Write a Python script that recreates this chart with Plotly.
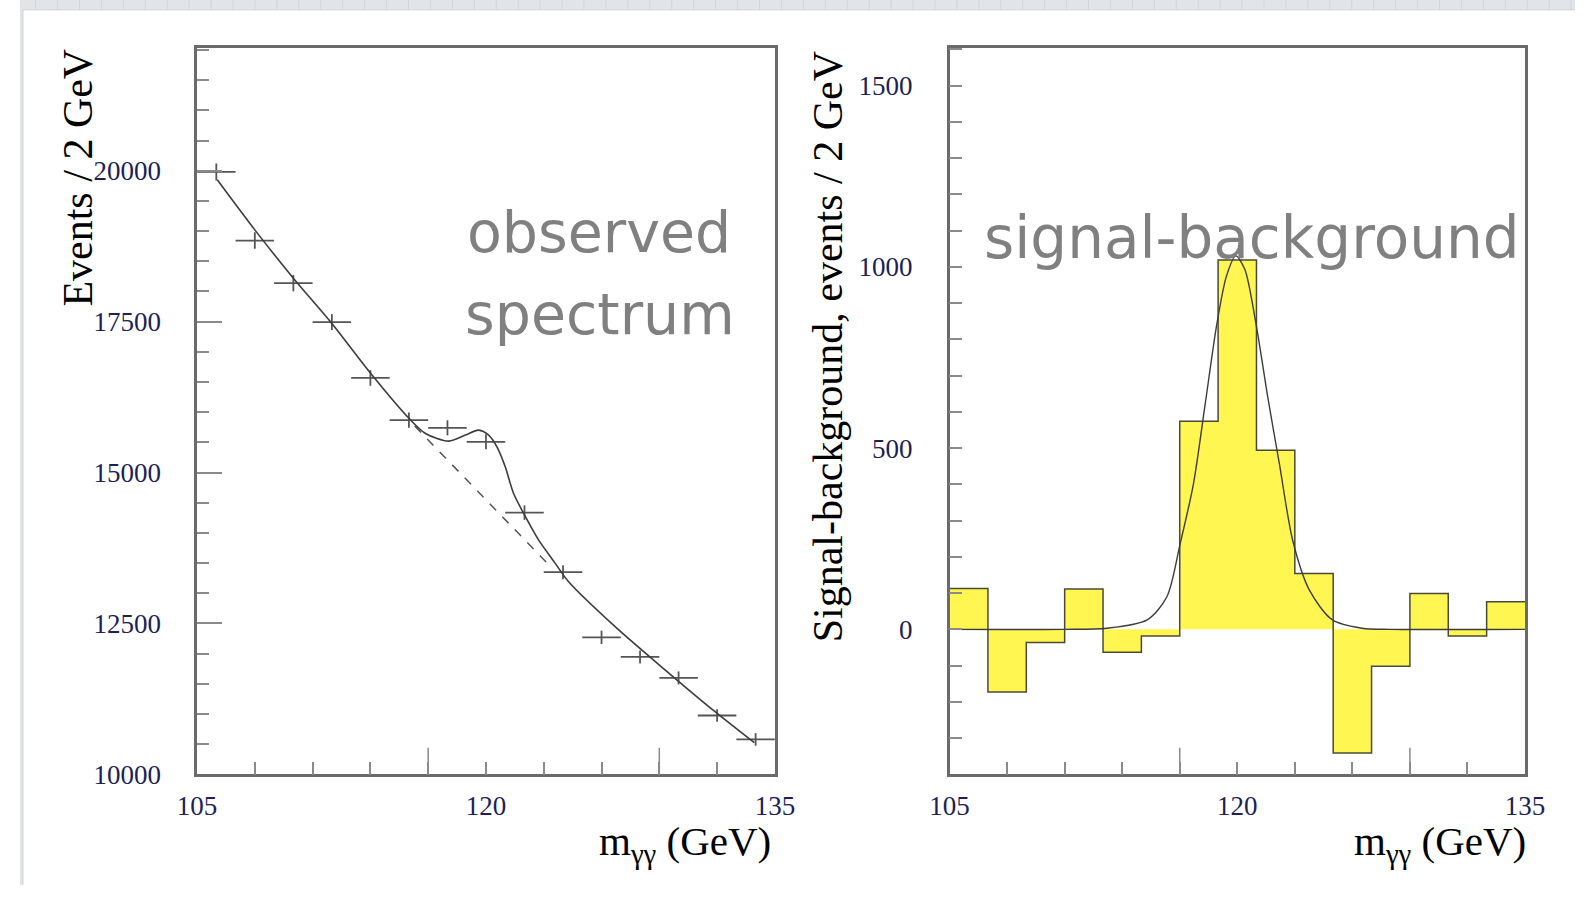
import plotly.graph_objects as go

W, H = 1595, 900

# ---------------- data ----------------
mass_centers = [106, 108, 110, 112, 114, 116, 118, 120, 122, 124, 126, 128, 130, 132, 134]
events = [19980, 18843, 18137, 17493, 16567, 15868, 15741, 15509, 14336, 13350, 12270, 11945, 11598, 10975, 10579]
event_err = [140, 137, 135, 132, 129, 126, 125, 125, 120, 116, 111, 109, 108, 105, 103]
bin_width = 2

fit_mass = [106.05, 108, 110, 112, 114, 116, 116.86, 118.07, 118.93, 119.62, 120.14, 120.57,
            121.0, 121.43, 122.0, 122.73, 123.59, 124.28, 126.69, 129.28, 131.86, 133.93]
fit_events = [19850, 19020, 18220, 17470, 16650, 15900, 15647, 15521, 15620, 15702, 15620, 15426,
              15096, 14656, 14298, 13884, 13499, 13195, 12451, 11736, 11046, 10524]

bkg_mass = [116.3, 120.0, 123.3]
bkg_events = [15770, 14550, 13460]

hist_edges = [105, 107, 109, 111, 113, 115, 117, 119, 121, 123, 125, 127, 129, 131, 133, 135]
excess = [113, -173, -36, 111, -63, -18, 574, 1019, 494, 154, -341, -102, 99, -18, 76]

sig_mass = [105, 111, 113.2, 115.3, 116.33, 117.02, 117.71, 118.32, 118.92, 119.44, 119.92,
            120.39, 120.99, 121.6, 122.2, 122.89, 123.76, 124.96, 126.5, 128, 135]
sig_events = [0, 0, 3, 26, 90, 236, 400, 619, 838, 975, 1030, 993, 838, 637, 455, 245, 108, 26, 3, 0, 0]

x_labels = [105, 120, 135]
x_minor = [108, 111, 114, 117, 123, 126, 129, 132]
x_long = [117, 129]

# ---------------- helpers ----------------
def fx(p):
    return p / W

def fy(p):
    return 1 - p / H

SERIF = "Liberation Serif, Times New Roman, serif"
TICKCOL = "#8a8a8a"
FRAME = "#6a6a6a"
LABCOL = "#1d1f55"

fig = go.Figure()

# left: observed spectrum
fig.add_trace(go.Scatter(
    x=mass_centers, y=events, mode="markers",
    marker=dict(size=1, color="#555555"),
    error_x=dict(type="constant", value=bin_width / 2, width=0, color="#555555", thickness=1.8),
    error_y=dict(type="data", array=event_err, width=0, color="#555555", thickness=1.8),
    xaxis="x", yaxis="y", showlegend=False, hoverinfo="skip"))
fig.add_trace(go.Scatter(
    x=bkg_mass, y=bkg_events, mode="lines",
    line=dict(color="#555555", width=1.5, dash="dash"),
    xaxis="x", yaxis="y", showlegend=False))
fig.add_trace(go.Scatter(
    x=fit_mass, y=fit_events, mode="lines",
    line=dict(color="#3c3c3c", width=1.6, shape="spline", smoothing=0.8),
    xaxis="x", yaxis="y", showlegend=False))

# right: signal - background
hx = hist_edges
hy = excess + [excess[-1]]
fig.add_trace(go.Scatter(
    x=hx, y=hy, mode="lines", line=dict(color="#4a4a3a", width=1.5, shape="hv"),
    fill="tozeroy", fillcolor="#fff652",
    xaxis="x2", yaxis="y2", showlegend=False))
fig.add_trace(go.Scatter(
    x=sig_mass, y=sig_events, mode="lines",
    line=dict(color="#3c3c3c", width=1.4, shape="spline", smoothing=0.8),
    xaxis="x2", yaxis="y2", showlegend=False))

TOP, BOT = 49, 787.5
ydom = [fy(BOT), fy(TOP)]
dom_h = BOT - TOP

def xaxis_cfg(dom, anchor):
    return dict(
        domain=dom, anchor=anchor, range=[105, 135],
        tickmode="array", tickvals=x_labels, ticktext=[str(v) for v in x_labels],
        ticks="inside", ticklen=13, tickwidth=1.5, tickcolor=TICKCOL,
        minor=dict(tickmode="array", tickvals=x_minor, ticks="inside", ticklen=13,
                   tickwidth=1.5, tickcolor=TICKCOL, showgrid=False),
        showline=True, mirror=True, linecolor=FRAME, linewidth=2.5,
        showgrid=False, zeroline=False,
        tickfont=dict(family=SERIF, size=27, color=LABCOL),
        ticklabelstandoff=5, fixedrange=True)

fig.update_layout(
    width=W, height=H,
    margin=dict(l=0, r=0, t=0, b=0),
    paper_bgcolor="white", plot_bgcolor="white",
    xaxis=xaxis_cfg([fx(181.6), fx(774.3)], "y"),
    xaxis2=xaxis_cfg([fx(953.5), fx(1543.7)], "y2"),
    yaxis=dict(
        domain=ydom, anchor="x", range=[10000, 22030],
        tick0=10000, dtick=2500, tickformat="d",
        ticks="inside", ticklen=25, tickwidth=1.5, tickcolor=TICKCOL,
        minor=dict(dtick=500, ticks="inside", ticklen=12, tickwidth=1.5, tickcolor=TICKCOL, showgrid=False),
        showline=True, mirror=True, linecolor=FRAME, linewidth=2.5,
        showgrid=False, zeroline=False,
        tickfont=dict(family=SERIF, size=27, color=LABCOL),
        ticklabelstandoff=28),
    yaxis2=dict(
        domain=ydom, anchor="x2", range=[-400, 1603],
        tick0=0, dtick=500, tickformat="d",
        ticks="inside", ticklen=13, tickwidth=1.5, tickcolor=TICKCOL,
        minor=dict(dtick=100, ticks="inside", ticklen=13, tickwidth=1.5, tickcolor=TICKCOL, showgrid=False),
        showline=True, mirror=True, linecolor=FRAME, linewidth=2.5,
        showgrid=False, zeroline=False,
        tickfont=dict(family=SERIF, size=27, color=LABCOL),
        ticklabelstandoff=29),
)

shapes = []
# slide background (grid paper edge)
shapes.append(dict(type="rect", xref="paper", yref="paper", x0=0, x1=1, y0=fy(10), y1=1,
                   fillcolor="#e2e5e8", line=dict(width=0), layer="below"))
shapes.append(dict(type="rect", xref="paper", yref="paper", x0=0, x1=fx(3), y0=0, y1=1,
                   fillcolor="#e2e5e8", line=dict(width=0), layer="below"))
gx = 16
while gx < W:
    shapes.append(dict(type="line", xref="paper", yref="paper", x0=fx(gx), x1=fx(gx), y0=fy(10), y1=1,
                       line=dict(color="#c9d9e2", width=1), layer="below"))
    gx += 22.5
shapes.append(dict(type="line", xref="paper", yref="paper", x0=fx(3), x1=fx(3), y0=0, y1=fy(10),
                   line=dict(color="#d0d0d0", width=1)))
shapes.append(dict(type="line", xref="paper", yref="paper", x0=fx(3), x1=1, y0=fy(10), y1=fy(10),
                   line=dict(color="#d0d0d0", width=1)))

# long x ticks
for xr in ["x", "x2"]:
    for v in x_long:
        shapes.append(dict(type="line", xref=xr, yref=("y domain" if xr == "x" else "y2 domain"),
                           x0=v, x1=v, y0=0, y1=27 / dom_h,
                           line=dict(color=TICKCOL, width=1.5)))
fig.update_layout(shapes=shapes)

ann = []
ann.append(dict(text="Events / 2 GeV", textangle=-90, xref="paper", yref="paper",
                x=fx(59.5), y=fy(180.6), xanchor="center", yanchor="middle", showarrow=False,
                font=dict(family=SERIF, size=42, color="black")))
ann.append(dict(text="Signal-background, events / 2 GeV", textangle=-90, xref="paper", yref="paper",
                x=fx(829), y=fy(353), xanchor="center", yanchor="middle", showarrow=False,
                font=dict(family=SERIF, size=42, color="black")))
for xr_px in [772, 1547]:
    ann.append(dict(text="m<sub>γγ</sub> (GeV)", xref="paper", yref="paper",
                    x=fx(xr_px), y=fy(858), xanchor="right", yanchor="middle", showarrow=False,
                    font=dict(family=SERIF, size=41, color="black")))
SANS = "DejaVu Sans, Verdana, sans-serif"
ann.append(dict(text="observed", xref="paper", yref="paper", x=fx(594.3), y=fy(236),
                xanchor="center", yanchor="middle", showarrow=False,
                font=dict(family=SANS, size=57, color="#808080")))
ann.append(dict(text="spectrum", xref="paper", yref="paper", x=fx(595.3), y=fy(319),
                xanchor="center", yanchor="middle", showarrow=False,
                font=dict(family=SANS, size=57, color="#808080")))
ann.append(dict(text="signal-background", xref="paper", yref="paper", x=fx(1264), y=fy(242),
                xanchor="center", yanchor="middle", showarrow=False,
                font=dict(family=SANS, size=58, color="#808080")))
fig.update_layout(annotations=ann)

fig.write_html("out.html")
